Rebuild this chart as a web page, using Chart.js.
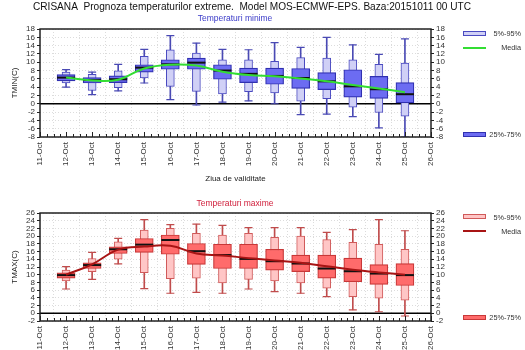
<!DOCTYPE html>
<html>
<head>
<meta charset="utf-8">
<script src="https://cdn.jsdelivr.net/npm/chart.js@4.4.0/dist/chart.umd.min.js"></script>
<style>
  body { margin: 0; background: #fff; font-family: "Liberation Sans", Arial, sans-serif; }
  #wrap { position: relative; width: 525px; height: 350px; overflow: hidden; }
  .pane { position: absolute; left: 0; }
  .txt { position: absolute; white-space: nowrap; font-size: 7.3px; color: #333; line-height: 1; z-index: 2; }
  .sw { position: absolute; left: 463px; width: 21px; height: 3px; z-index: 2; }
  .ln { position: absolute; left: 463px; width: 23px; height: 2px; z-index: 2; }
</style>
</head>
<body>
<div id="wrap">
  <div class="txt" style="left:33px;top:2px;font-size:10.1px;color:#111;">CRISANA&nbsp; Prognoza temperaturilor extreme.&nbsp; Model MOS-ECMWF-EPS. Baza:20151011 00 UTC</div>
  <div class="txt" style="left:235px;top:14px;font-size:8.5px;color:#3a3ac8;transform:translateX(-50%);">Temperaturi minime</div>
  <div class="txt" style="left:235px;top:199px;font-size:8.5px;color:#d0203c;transform:translateX(-50%);">Temperaturi maxime</div>

  <div class="sw" style="top:31px;background:#d0d0f6;border:1px solid #4a4ac0;"></div>
  <div class="txt" style="right:4px;top:30px;">5%-95%</div>
  <div class="ln" style="top:47px;background:#33dd33;"></div>
  <div class="txt" style="right:4px;top:44px;">Media</div>
  <div class="sw" style="top:132px;background:#6c6cf2;border:1px solid #3030b0;"></div>
  <div class="txt" style="right:4px;top:131px;">25%-75%</div>

  <div class="sw" style="top:214px;background:#ffc6c6;border:1px solid #d05a5a;"></div>
  <div class="txt" style="right:4px;top:214px;">5%-95%</div>
  <div class="ln" style="top:230px;background:#a81414;"></div>
  <div class="txt" style="right:4px;top:228px;">Media</div>
  <div class="sw" style="top:315px;background:#ff6b6b;border:1px solid #c83838;"></div>
  <div class="txt" style="right:4px;top:314px;">25%-75%</div>

  <div class="pane" style="top:0;"><canvas id="chartTmin" width="525" height="190"></canvas></div>
  <div class="pane" style="top:190px;"><canvas id="chartTmax" width="525" height="160"></canvas></div>
</div>
<script>
const days = ["11-Oct", "12-Oct", "13-Oct", "14-Oct", "15-Oct", "16-Oct", "17-Oct", "18-Oct",
  "19-Oct", "20-Oct", "21-Oct", "22-Oct", "23-Oct", "24-Oct", "25-Oct", "26-Oct"];
const forecastDays = days.slice(1, 15);

// TMIN (C), 12-Oct .. 25-Oct
const tminLow = [4.0, 2.2, 3.1, 5.0, 1.0, -0.3, 0.4, 0.7, 0.0, -2.6, -2.5, -3.1, -5.8, -8.0];
const tminP5 = [5.0, 3.2, 3.9, 6.2, 4.2, 3.0, 2.4, 2.9, 2.6, 0.6, 1.2, -0.8, -2.1, -3.0];
const tminP25 = [5.5, 5.0, 5.1, 7.6, 8.3, 8.3, 5.9, 5.1, 4.7, 3.7, 3.4, 1.6, 1.3, 0.2];
const tminMedian = [6.3, 5.7, 5.9, 8.7, 9.5, 9.9, 8.0, 7.2, 6.7, 6.2, 5.4, 4.2, 3.5, 2.3];
const tminP75 = [7.0, 6.3, 6.7, 9.4, 10.6, 11.0, 9.4, 8.6, 8.6, 8.5, 7.5, 8.2, 6.6, 5.1];
const tminP95 = [7.6, 7.1, 7.9, 11.4, 13.0, 12.2, 10.6, 10.6, 10.2, 11.1, 11.0, 10.6, 9.5, 9.8];
const tminHigh = [8.2, 7.6, 9.5, 13.1, 16.4, 14.6, 13.1, 13.0, 14.7, 13.6, 16.0, 14.2, 11.9, 15.6];
const tminMean = [6.3, 5.6, 5.8, 8.5, 9.4, 9.2, 7.7, 6.9, 6.6, 6.1, 5.4, 4.5, 3.7, 2.8];

// TMAX (C), 12-Oct .. 25-Oct
const tmaxLow = [6.3, 8.8, 12.8, 6.4, 5.2, 5.4, 5.2, 6.3, 5.6, 5.2, 4.3, 0.9, 0.4, -0.7];
const tmaxP5 = [8.4, 10.8, 14.0, 10.5, 9.0, 9.1, 7.9, 8.8, 8.4, 7.9, 6.5, 4.3, 3.9, 3.4];
const tmaxP25 = [9.1, 11.6, 15.5, 15.8, 15.3, 12.7, 11.6, 11.6, 11.2, 10.8, 9.1, 8.2, 7.5, 7.2];
const tmaxMedian = [9.9, 12.5, 16.6, 17.8, 19.0, 16.1, 15.1, 14.1, 13.5, 12.9, 11.6, 10.9, 10.3, 9.9];
const tmaxP75 = [10.5, 13.1, 17.2, 19.4, 20.3, 18.1, 17.9, 17.9, 16.6, 15.1, 15.1, 14.3, 12.6, 12.9];
const tmaxP95 = [11.2, 14.2, 18.5, 21.6, 22.0, 20.7, 20.3, 20.7, 19.7, 20.0, 19.1, 18.4, 17.9, 16.6];
const tmaxHigh = [12.1, 15.8, 19.4, 24.3, 23.0, 23.1, 22.8, 22.2, 22.2, 22.2, 21.0, 21.7, 24.3, 21.4];
const tmaxMean = [10.0, 12.7, 16.5, 17.3, 17.5, 15.5, 15.0, 14.3, 13.7, 13.1, 12.2, 11.3, 10.6, 10.0];

const FONT = "'Liberation Sans', Arial, sans-serif";
const TICK_COLOR = "#333";

const framePlugin = {
  id: "frame",
  beforeDatasetsDraw(chart) {
    const { ctx, chartArea: a, scales: { y } } = chart;
    const y0 = y.getPixelForValue(0);
    ctx.save();
    ctx.strokeStyle = "#000";
    ctx.lineWidth = 1.5;
    ctx.beginPath();
    ctx.moveTo(a.left, y0);
    ctx.lineTo(a.right, y0);
    ctx.stroke();
    ctx.restore();
  },
  afterDraw(chart) {
    const { ctx, chartArea: a, scales: { x } } = chart;
    ctx.save();
    ctx.strokeStyle = "#222";
    ctx.lineWidth = 1.5;
    ctx.strokeRect(a.left, a.top, a.right - a.left, a.bottom - a.top);
    ctx.lineWidth = 1;
    ctx.beginPath();
    const step = (x.getPixelForValue(1) - x.getPixelForValue(0)) / 4;
    for (let i = 0; i < days.length; i++) {
      const px = Math.round(x.getPixelForValue(i)) + 0.5;
      ctx.moveTo(px, a.bottom);
      ctx.lineTo(px, a.bottom - 5);
      if (i < days.length - 1) {
        for (let k = 1; k < 4; k++) {
          const mx = Math.round(px + k * step) + 0.5;
          ctx.moveTo(mx, a.bottom);
          ctx.lineTo(mx, a.bottom - 3);
        }
      }
    }
    ctx.stroke();
    ctx.restore();
  }
};

function ranges(lo, hi) {
  return forecastDays.map((d, i) => ({ x: d, y: [lo[i], hi[i]] }));
}

function points(v) {
  return forecastDays.map((d, i) => ({ x: d, y: v[i] }));
}

function makeChart(id, s) {
  const canvas = document.getElementById(id);
  const tickFont = { family: FONT, size: 8 };
  return new Chart(canvas, {
    type: "bar",
    data: {
      datasets: [
        {
          data: ranges(s.low, s.high),
          backgroundColor: s.whisker,
          barThickness: 1,
          grouped: false,
          order: 6
        },
        {
          type: "line",
          data: points(s.high),
          showLine: false,
          pointStyle: "line",
          pointRadius: 4,
          pointBorderWidth: 1.2,
          borderColor: s.whisker,
          order: 5
        },
        {
          type: "line",
          data: points(s.low),
          showLine: false,
          pointStyle: "line",
          pointRadius: 4,
          pointBorderWidth: 1.2,
          borderColor: s.whisker,
          order: 5
        },
        {
          data: ranges(s.p5, s.p95),
          backgroundColor: s.lightFill,
          borderColor: s.lightBorder,
          borderWidth: 1,
          borderSkipped: false,
          barThickness: 8,
          grouped: false,
          order: 4
        },
        {
          data: ranges(s.p25, s.p75),
          backgroundColor: s.darkFill,
          borderColor: s.darkBorder,
          borderWidth: 1.2,
          borderSkipped: false,
          barThickness: 18,
          grouped: false,
          order: 3
        },
        {
          type: "line",
          data: points(s.median),
          showLine: false,
          pointStyle: "line",
          pointRadius: 9,
          pointBorderWidth: 2,
          borderColor: "#111",
          order: 2
        },
        {
          type: "line",
          data: points(s.mean),
          borderColor: s.meanColor,
          borderWidth: 2,
          pointRadius: 0,
          tension: 0.4,
          order: 1
        }
      ]
    },
    options: {
      responsive: false,
      animation: false,
      events: [],
      layout: { padding: { top: s.padTop, right: 76, left: 0, bottom: 0 } },
      plugins: { legend: { display: false }, tooltip: { enabled: false } },
      scales: {
        x: {
          type: "category",
          labels: days,
          offset: false,
          grid: { color: "#dcdcdc", drawTicks: false },
          border: { display: false, dash: [1, 2] },
          ticks: {
            autoSkip: false,
            minRotation: 90,
            maxRotation: 90,
            padding: 5,
            font: tickFont,
            color: TICK_COLOR
          },
          title: {
            display: s.xTitle,
            text: "Ziua de validitate",
            font: { family: FONT, size: 8 },
            color: "#222",
            padding: { top: 0, bottom: 6 }
          },
          afterFit(scale) { scale.height = s.xHeight; }
        },
        y: {
          min: s.min,
          max: s.max,
          ticks: { stepSize: 2, autoSkip: false, font: tickFont, color: TICK_COLOR, padding: 2 },
          grid: { color: "#dcdcdc", tickLength: 3, tickColor: "#222" },
          border: { display: false, dash: [1, 2] },
          title: {
            display: true,
            text: s.yTitle,
            font: { family: FONT, size: 8 },
            color: "#222",
            padding: { top: 10, bottom: 0 }
          },
          afterFit(scale) { scale.width = 40; }
        },
        y2: {
          position: "right",
          min: s.min,
          max: s.max,
          ticks: { stepSize: 2, autoSkip: false, font: tickFont, color: TICK_COLOR, padding: 2 },
          grid: { drawOnChartArea: false, tickLength: 3, tickColor: "#222" },
          border: { display: false },
          afterFit(scale) { scale.width = 18; }
        }
      }
    },
    plugins: [framePlugin]
  });
}

makeChart("chartTmin", {
  low: tminLow, p5: tminP5, p25: tminP25, median: tminMedian,
  p75: tminP75, p95: tminP95, high: tminHigh, mean: tminMean,
  min: -8, max: 18, yTitle: "TMIN(C)",
  padTop: 29, xHeight: 53, xTitle: true,
  whisker: "#4a4ab4",
  lightFill: "#d0d0f6", lightBorder: "#4a4ac0",
  darkFill: "#6c6cf2", darkBorder: "#3030b0",
  meanColor: "#33dd33"
});

makeChart("chartTmax", {
  low: tmaxLow, p5: tmaxP5, p25: tmaxP25, median: tmaxMedian,
  p75: tmaxP75, p95: tmaxP95, high: tmaxHigh, mean: tmaxMean,
  min: -2, max: 26, yTitle: "TMAX(C)",
  padTop: 23, xHeight: 29, xTitle: false,
  whisker: "#c04c4c",
  lightFill: "#ffc6c6", lightBorder: "#d05a5a",
  darkFill: "#ff6b6b", darkBorder: "#c83838",
  meanColor: "#a81414"
});
</script>
</body>
</html>
